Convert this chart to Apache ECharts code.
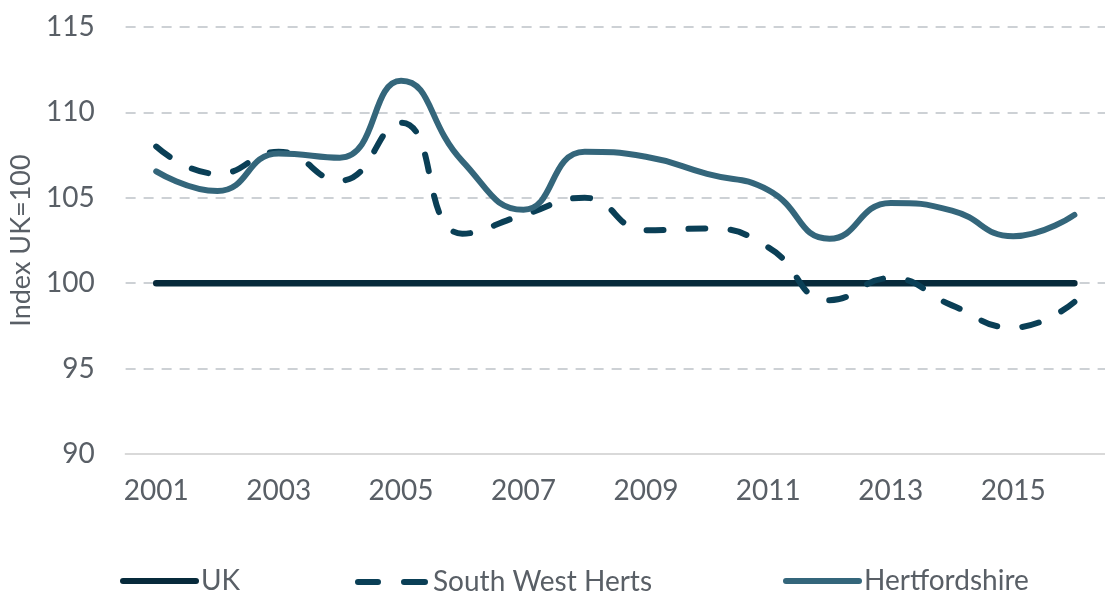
<!DOCTYPE html>
<html>
<head>
<meta charset="utf-8">
<script src="https://cdn.jsdelivr.net/npm/echarts@6/dist/echarts.min.js"></script>
<style>
html, body { margin: 0; padding: 0; background: #fff; }
#chart { width: 1105px; height: 593px; }
</style>
</head>
<body>
<div id="chart"></div>
<script>
const years = ['2001', '2002', '2003', '2004', '2005', '2006', '2007', '2008',
               '2009', '2010', '2011', '2012', '2013', '2014', '2015', '2016'];
const uk = [100, 100, 100, 100, 100, 100, 100, 100, 100, 100, 100, 100, 100, 100, 100, 100];
const southWestHerts = [108.0, 106.4, 107.7, 106.0, 109.4, 102.9, 104.0, 105.0,
                        103.1, 103.2, 102.1, 99.0, 100.3, 98.7, 97.4, 98.9];
const hertfordshire = [106.55, 105.4, 107.6, 107.35, 111.85, 107.15, 104.3, 107.7,
                       107.4, 106.4, 105.45, 102.6, 104.7, 104.25, 102.75, 104.0];
const yTicks = { min: 90, max: 115, interval: 5 };

const textColor = '#595f66';
const font = 'Lato';

// two rounded dashes for the dashed legend key, in a 73x30 box
// (tiny corner specks keep the box size so the icon is not stretched)
const dashIcon = 'path://M3,12H23A3,3 0 0 1 23,18H3A3,3 0 0 1 3,12Z' +
                 'M49,12H70A3,3 0 0 1 70,18H49A3,3 0 0 1 49,12Z' +
                 'M0,0L0.01,0L0,0.01Z' +
                 'M73,30L72.99,30L73,29.99Z';

const chart = echarts.init(document.getElementById('chart'));

// one legend per item so each can sit where it is in the picture
function legendAt(name, left) {
    return {
        data: [name],
        left: left,
        top: 567,
        padding: 0,
        itemWidth: 73,
        itemHeight: 30,
        itemGap: 0,
        itemStyle: { opacity: 0 },
        lineStyle: { width: 6, cap: 'round' },
        textStyle: { color: textColor, fontFamily: font, fontSize: 28 }
    };
}

const option = {
    animation: false,
    grid: { left: 124, top: 27, width: 993, height: 427 },
    legend: [
        legendAt('UK', 120),
        {
            data: [{ name: 'South West Herts', icon: dashIcon }],
            left: 355,
            top: 567,
            padding: 0,
            itemWidth: 73,
            itemHeight: 30,
            textStyle: { color: textColor, fontFamily: font, fontSize: 28 }
        },
        legendAt('Hertfordshire', 783)
    ],
    xAxis: {
        type: 'category',
        data: years,
        boundaryGap: true,
        axisLine: { lineStyle: { color: '#d9d9d9', width: 2 } },
        axisTick: { show: false },
        axisLabel: {
            interval: 1,
            margin: 23,
            color: textColor,
            fontFamily: font,
            fontSize: 28
        }
    },
    yAxis: {
        type: 'value',
        min: yTicks.min,
        max: yTicks.max,
        interval: yTicks.interval,
        name: 'Index UK=100',
        nameLocation: 'middle',
        nameGap: 89,
        nameTextStyle: { color: textColor, fontFamily: font, fontSize: 27 },
        axisLine: { show: false },
        axisTick: { show: false },
        axisLabel: { margin: 31, color: textColor, fontFamily: font, fontSize: 28 },
        splitLine: { lineStyle: { color: '#cdd1d5', width: 2, type: [10, 8] } }
    },
    series: [
        {
            name: 'UK',
            type: 'line',
            data: uk,
            symbol: 'none',
            color: '#072a3b',
            lineStyle: { width: 6.5, cap: 'round' },
            z: 3
        },
        {
            name: 'South West Herts',
            type: 'line',
            data: southWestHerts,
            symbol: 'none',
            smooth: 0.5,
            color: '#0a3f56',
            lineStyle: { width: 6, type: [17, 25], cap: 'round' },
            z: 4
        },
        {
            name: 'Hertfordshire',
            type: 'line',
            data: hertfordshire,
            symbol: 'none',
            smooth: 0.5,
            color: '#34667b',
            lineStyle: { width: 6, cap: 'round' },
            z: 5
        }
    ]
};

chart.setOption(option);
window.addEventListener('resize', () => { chart.resize(); });
</script>
</body>
</html>
